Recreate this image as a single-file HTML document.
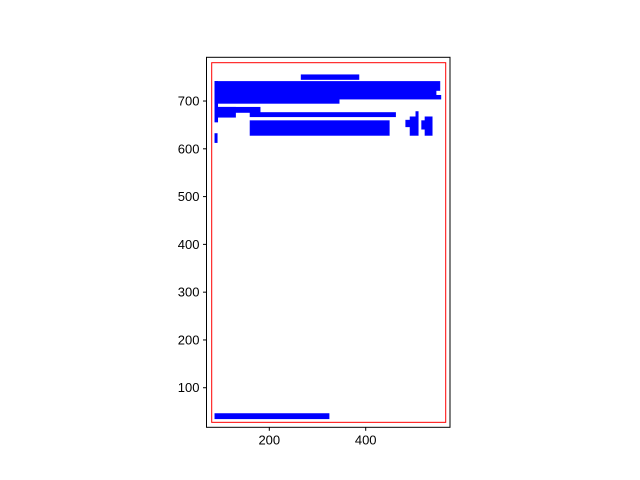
<!DOCTYPE html>
<html><head><meta charset="utf-8"><style>
html,body{margin:0;padding:0;background:#fff;}
svg{display:block;font-family:"Liberation Sans","DejaVu Sans",sans-serif;}
</style></head><body>
<svg id="chart" width="640" height="480" viewBox="0 0 640 480"></svg>
<script>
const rectX0 = [266, 87, 87, 87, 87, 87, 93, 93, 160, 160, 87, 492, 504, 483, 523, 516, 87];
const rectX1 = [386, 554, 546, 556, 345, 93, 181, 130, 462, 449, 92, 509, 509, 492, 538, 523, 324];
const rectY0 = [745, 722, 712, 704, 695, 656, 676, 666, 667, 628, 613, 628, 667, 646, 628, 641, 35];
const rectY1 = [755, 741, 722, 712, 704, 741, 687, 687, 676, 659, 632, 667, 678, 660, 667, 659, 46];
const frame = [80.5, 566, 27.6, 780.2];
const xTicks = [200, 400];
const yTicks = [100, 200, 300, 400, 500, 600, 700];
const xDomain = [69.7, 574.9];
const yDomain = [17.2, 791.5];

const L = 206.5, R = 450, T = 57.3, B = 427.3;
const sx = v => L + (v - xDomain[0]) / (xDomain[1] - xDomain[0]) * (R - L);
const sy = v => B - (v - yDomain[0]) / (yDomain[1] - yDomain[0]) * (B - T);
const NS = "http://www.w3.org/2000/svg";
const svg = document.getElementById("chart");
function mk(tag, attrs, parent) {
  const e = document.createElementNS(NS, tag);
  for (const k in attrs) e.setAttribute(k, attrs[k]);
  (parent || svg).appendChild(e);
  return e;
}
for (let i = 0; i < rectX0.length; i++) {
  const r = mk("rect", {x: sx(rectX0[i]), y: sy(rectY1[i]), width: sx(rectX1[i]) - sx(rectX0[i]), height: sy(rectY0[i]) - sy(rectY1[i]), fill: "#0000ff", stroke: "#0000ff", "stroke-width": 0.6});
  
  
}
const fr = mk("rect", {x: sx(frame[0]), y: sy(frame[3]), width: sx(frame[1]) - sx(frame[0]), height: sy(frame[2]) - sy(frame[3]), fill: "none", stroke: "#ff0000", "stroke-width": 1});


const ax = mk("rect", {x: L, y: T, width: R - L, height: B - T, fill: "none", stroke: "#000", "stroke-width": 1});


xTicks.forEach(v => {
  const x = sx(v);
  const t = mk("line", {x1: x, x2: x, y1: B, y2: B + 3.5, stroke: "#000"});
  
  
  const lb = mk("text", {x: x, y: B + 17, "text-anchor": "middle", "font-size": 13, fill: "#000"});
  lb.textContent = v;
  
  
});
yTicks.forEach(v => {
  const y = sy(v);
  const t = mk("line", {x1: L - 3.5, x2: L, y1: y, y2: y, stroke: "#000"});
  
  
  const lb = mk("text", {x: L - 7, y: y + 4.5, "text-anchor": "end", "font-size": 13, fill: "#000"});
  lb.textContent = v;
  
  
});
</script>
</body></html>
